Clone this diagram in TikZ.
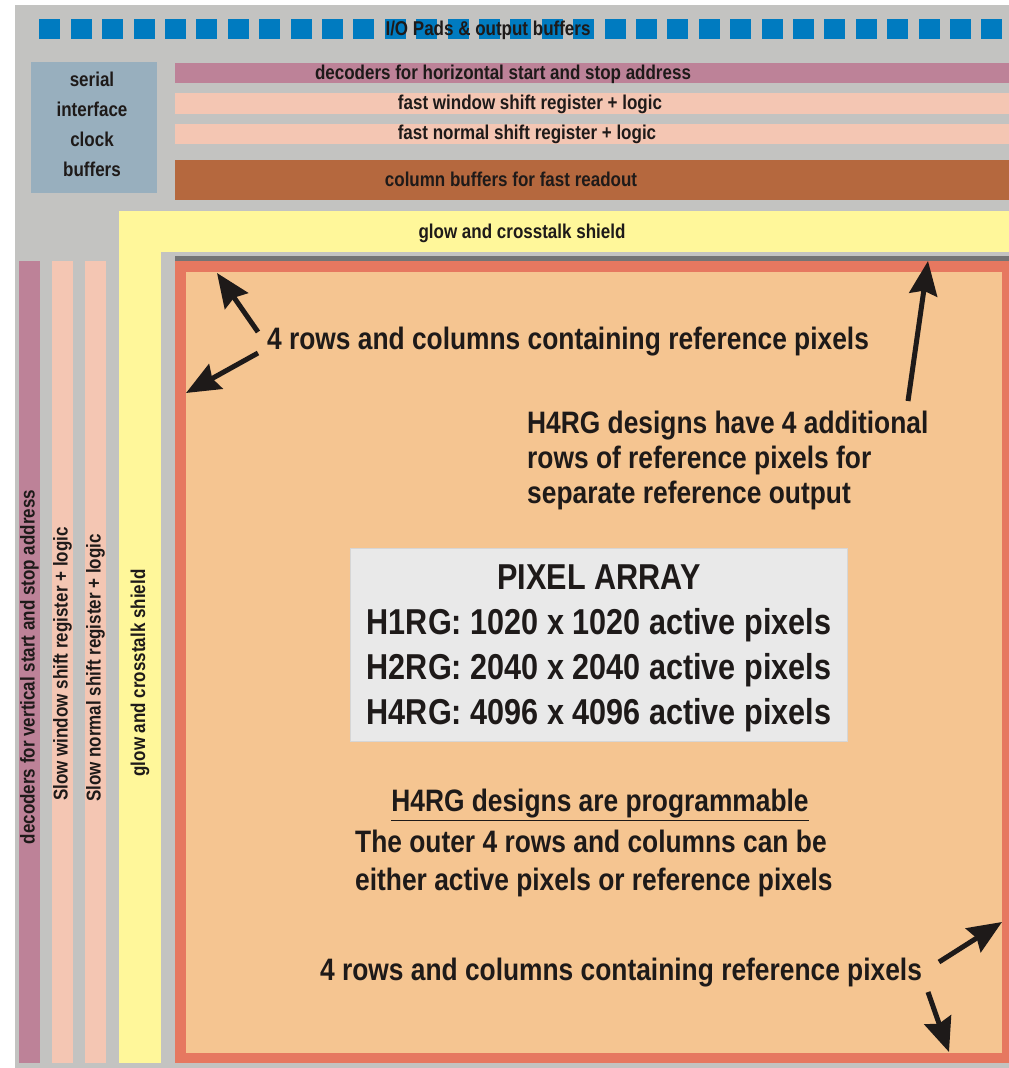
\documentclass[tikz,border=0pt]{standalone}
\usepackage{fontspec}
\setmainfont{Liberation Sans}[FakeStretch=0.85]
\usetikzlibrary{arrows.meta}

\definecolor{chipgray}{RGB}{195,195,193}
\definecolor{padblue}{RGB}{0,123,192}
\definecolor{serialblue}{RGB}{152,175,190}
\definecolor{decmauve}{RGB}{189,130,152}
\definecolor{shiftpink}{RGB}{244,198,179}
\definecolor{bufbrown}{RGB}{181,104,62}
\definecolor{shieldyellow}{RGB}{255,247,154}
\definecolor{edgegray}{RGB}{116,116,116}
\definecolor{refred}{RGB}{230,120,96}
\definecolor{pixpeach}{RGB}{245,197,145}
\definecolor{boxgray}{RGB}{233,233,233}
\definecolor{boxedge}{RGB}{214,214,214}
\definecolor{ink}{RGB}{30,26,25}

\tikzset{
  small/.style={font=\bfseries\fontsize{20}{30}\selectfont, text=ink, inner sep=0pt},
  big/.style={font=\bfseries\fontsize{31}{35}\selectfont, text=ink, inner sep=0pt},
  fatarrow/.style={draw=ink, line width=5pt, -{Stealth[length=34pt,width=28pt,inset=4pt]}}
}

\begin{document}
\begin{tikzpicture}[x=1pt,y=-1pt]
\useasboundingbox (0,0) rectangle (1009,1068);
\fill[chipgray] (15,5) rectangle (1009,1068);

% pads on top
\foreach \n in {0,1,...,30}{
  \fill[padblue] (39.3+31.4*\n,19) rectangle ++(21,20);
}
\node[small] (pads) at (488,30) {I/O Pads \& output buffers};

% serial block and the horizontal bands
\fill[serialblue] (31,62) rectangle (157,193);
\node[small, align=center] (serial) at (92,124) {serial\\interface\\clock\\buffers};

\fill[decmauve] (175,63) rectangle (1009,83);
\fill[shiftpink] (175,93) rectangle (1009,114);
\fill[shiftpink] (175,124) rectangle (1009,144);
\fill[bufbrown] (175,160) rectangle (1009,200);
\node[small] (hdec) at (503,74) {decoders for horizontal start and stop address};
\node[small] (hwin) at (530,104) {fast window shift register + logic};
\node[small] (hnorm) at (527,134) {fast normal shift register + logic};
\node[small] (colbuf) at (511,179) {column buffers for fast readout};

% vertical bands on the left
\fill[decmauve] (19,261) rectangle (40,1063);
\fill[shiftpink] (52,261) rectangle (73,1063);
\fill[shiftpink] (85,261) rectangle (106,1063);
\node[small, rotate=90] (vdec) at (29.5,667) {decoders for vertical start and stop address};
\node[small, rotate=90] (vwin) at (62.5,664) {Slow window shift register + logic};
\node[small, rotate=90] (vnorm) at (95.5,668) {Slow normal shift register + logic};

% shield (L shape) and the array itself
\fill[shieldyellow] (119,211) rectangle (1009,1063);
\fill[chipgray] (161,252) rectangle (1009,1063);
\node[small] (hshield) at (522,233) {glow and crosstalk shield};
\node[small, rotate=90] (vshield) at (140,673) {glow and crosstalk shield};

\fill[edgegray] (175,256) rectangle (1009,261);
\fill[refred] (175,261) rectangle (1009,1063);
\fill[pixpeach] (186,272) rectangle (1002,1053);

\node[draw=boxedge, line width=1.5pt, fill=boxgray, minimum width=497, minimum height=193,
      text=ink, font=\bfseries\fontsize{36}{45}\selectfont] (array) at (599,645) {};
\node[align=center, text=ink, font=\bfseries\fontsize{36}{45}\selectfont] (arraytext) at (599,648.5)
  {PIXEL ARRAY\\H1RG: 1020 x 1020 active pixels\\H2RG: 2040 x 2040 active pixels\\H4RG: 4096 x 4096 active pixels};

% notes
\node[big] (reftop) at (568,342) {4 rows and columns containing reference pixels};
\node[big, align=left, anchor=west] (h4note) at (527,460)
  {H4RG designs have 4 additional\\rows of reference pixels for\\separate reference output};
\node[big] (proghead) at (600,805) {\underline{H4RG designs are programmable}};
\node[big, align=left, anchor=west, font=\bfseries\fontsize{31}{38}\selectfont] (outer) at (355,863)
  {The outer 4 rows and columns can be\\either active pixels or reference pixels};
\node[big] (refbot) at (621,973) {4 rows and columns containing reference pixels};

% arrows
\coordinate (a1) at (258,332); \coordinate (t1) at (217,273);
\coordinate (a2) at (258,353); \coordinate (t2) at (186,393);
\coordinate (a3) at (908,401); \coordinate (t3) at (928,261);
\coordinate (a4) at (939,962); \coordinate (t4) at (1002,922);
\coordinate (a5) at (928,992); \coordinate (t5) at (949,1052);
\draw[fatarrow] (a1) -- (t1);
\draw[fatarrow] (a2) -- (t2);
\draw[fatarrow] (a3) -- (t3);
\draw[fatarrow] (a4) -- (t4);
\draw[fatarrow] (a5) -- (t5);
\end{tikzpicture}
\end{document}
